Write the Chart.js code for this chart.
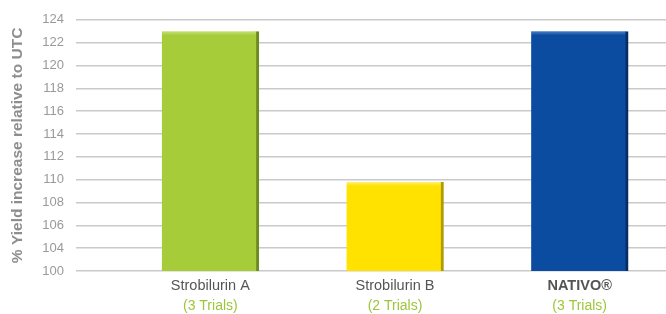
<!DOCTYPE html>
<html>
<head>
<meta charset="utf-8">
<script src="https://cdn.jsdelivr.net/npm/chart.js@4"></script>
<style>
  html, body { margin: 0; padding: 0; background: #fff; }
  #wrap { width: 666px; height: 314px; }
</style>
</head>
<body>
<div id="wrap"><canvas id="yield-bar"></canvas></div>
<script>
// data
var produtos = ["Strobilurin A", "Strobilurin B", "NATIVO\u00AE"];
var ensaios = ["(3 Trials)", "(2 Trials)", "(3 Trials)"];
var valores = [123, 109.8, 123];
// the lowest gridline is labelled 100 (broken axis), the rest step by 2
var rotulos_y = ["100", "104", "106", "108", "110", "112", "114", "116", "118", "120", "122", "124"];

var cores = ["#a6cc3a", "#ffe200", "#0c4ca0"];
var cores_escuras = ["#6e8a20", "#b09c00", "#062d66"];
var cores_claras = ["#c8e07e", "#fff07c", "#4d7fc4"];

var ctx = document.getElementById("yield-bar");

var preencher = function (c) {
  var chart = c.chart;
  var i = c.dataIndex;
  var y = chart.scales && chart.scales.y;
  if (!y || i === undefined) return cores[i || 0];
  var topo = y.getPixelForValue(valores[i]);
  if (!isFinite(topo)) return cores[i];
  var g = chart.ctx.createLinearGradient(0, topo, 0, topo + 4);
  g.addColorStop(0, cores_claras[i]);
  g.addColorStop(1, cores[i]);
  return g;
};

// the original plot runs a little past the right edge of the picture
var esticar = {
  id: "esticar",
  afterLayout: function (chart) {
    var extra = 6;
    chart.chartArea.right += extra;
    ["x", "x2"].forEach(function (id) {
      var s = chart.scales[id];
      s.right += extra;
      s.width += extra;
      s.configure();
    });
  }
};

var myChart = new Chart(ctx, {
  type: "bar",
  data: {
    labels: produtos,
    datasets: [
      {
        label: "% Yield increase",
        data: valores,
        backgroundColor: preencher,
        borderColor: cores_escuras,
        borderWidth: { top: 0, left: 0, right: 3, bottom: 1 },
        borderSkipped: false,
        barThickness: 97
      }
    ]
  },
  plugins: [esticar],
  options: {
    responsive: true,
    maintainAspectRatio: false,
    animation: false,
    layout: { padding: { top: 12, right: 0, bottom: 0, left: 0 } },
    plugins: {
      legend: { display: false },
      tooltip: { enabled: false }
    },
    scales: {
      y: {
        min: 102,
        max: 124,
        afterFit: function (s) { s.width = 118; },
        ticks: {
          stepSize: 2,
          padding: 12,
          color: "#9a9a9a",
          font: { family: "'Liberation Sans', Arial, sans-serif", size: 13 },
          callback: function (v, i) { return rotulos_y[i]; }
        },
        grid: { color: "#cacaca", lineWidth: 1.5, tickLength: 42 },
        border: { display: false },
        title: {
          display: true,
          text: "% Yield increase relative to UTC",
          color: "#8e8e8e",
          padding: { top: 8, bottom: 0 },
          font: { family: "'Liberation Sans', Arial, sans-serif", size: 15.5, weight: "bold" }
        }
      },
      x: {
        afterFit: function (s) { s.height = 24; },
        grid: { display: false, drawTicks: false },
        border: { display: false },
        ticks: {
          padding: 6,
          color: "#555555",
          font: function (c) {
            return {
              family: "'Liberation Sans', Arial, sans-serif",
              size: 14.5,
              weight: c.index === 2 ? "bold" : "normal"
            };
          }
        }
      },
      x2: {
        type: "category",
        position: "bottom",
        labels: ensaios,
        afterFit: function (s) { s.height = 19; },
        grid: { display: false, drawTicks: false },
        border: { display: false },
        ticks: {
          padding: 3,
          color: "#9cc63a",
          font: { family: "'Liberation Sans', Arial, sans-serif", size: 14 }
        }
      }
    }
  }
});
</script>
</body>
</html>
